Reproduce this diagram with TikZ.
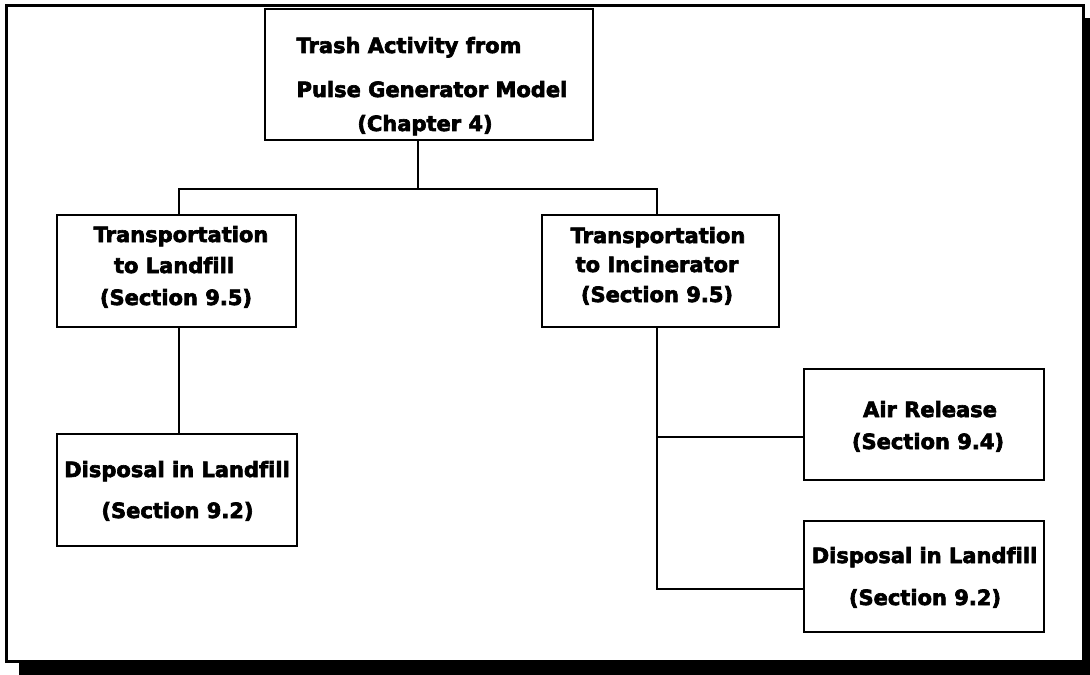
\documentclass[tikz,border=0pt]{standalone}
\usepackage{fontspec}
\setmainfont{DejaVu Sans}
\newfontfamily\heavyfont{DejaVu Sans Bold}[FakeBold=3, Ligatures=CommonOff]
\usetikzlibrary{calc}
\begin{document}
\begin{tikzpicture}[x=1bp, y=-1bp,
  box/.style={draw=black, line width=2.5bp, rectangle, inner sep=0pt},
  txt/.style={anchor=base, inner sep=0pt, font=\heavyfont\fontsize{21bp}{24bp}\selectfont},
  link/.style={draw=black, line width=2.5bp}]
\useasboundingbox (0,0) rectangle (1090,675);
% page frame with drop shadow
\fill[black] (19,18) rectangle (1090,675);
\draw[line width=3bp, fill=white] (6.5,5.5) rectangle (1083.5,661.5);

% boxes
\node[box, minimum width=328bp, minimum height=131bp] (top) at (429,74.5) {};
\node[box, minimum width=239bp, minimum height=112bp] (tl)  at (176.5,271) {};
\node[box, minimum width=237bp, minimum height=112bp] (tr)  at (660.5,271) {};
\node[box, minimum width=240bp, minimum height=112bp] (dl)  at (177,490) {};
\node[box, minimum width=240bp, minimum height=111bp] (air) at (924,424.5) {};
\node[box, minimum width=240bp, minimum height=111bp] (dr)  at (924,576.5) {};

% box texts
\node[txt] (top1) at (409,53)  {Trash Activity from};
\node[txt] (top2) at (432,97)  {Pulse Generator Model};
\node[txt] (top3) at (425,131) {(Chapter 4)};
\node[txt] (tl1) at (181,242) {Transportation};
\node[txt] (tl2) at (174,273) {to Landfill};
\node[txt] (tl3) at (176,305) {(Section 9.5)};
\node[txt] (tr1) at (658,243) {Transportation};
\node[txt] (tr2) at (657,272) {to Incinerator};
\node[txt] (tr3) at (657,302) {(Section 9.5)};
\node[txt] (dl1) at (177,477) {Disposal in Landfill};
\node[txt] (dl2) at (177.5,518) {(Section 9.2)};
\node[txt] (air1) at (930,417) {Air Release};
\node[txt] (air2) at (928,449) {(Section 9.4)};
\node[txt] (dr1) at (924.5,563) {Disposal in Landfill};
\node[txt] (dr2) at (925,605) {(Section 9.2)};

% junction points
\coordinate (jt) at (418,189);
\coordinate (jl) at (179,189);
\coordinate (jr) at (657,189);
\coordinate (ra) at (804,437);
\coordinate (rd) at (804,589);

% connectors
\draw[link] (jt |- top.south) -- (jt);
\draw[link] (jl |- tl.north) -- (jl) -- (jr) -- (jr |- tr.north);
\draw[link] (jl |- tl.south) -- (jl |- dl.north);
\draw[link] (jr |- tr.south) -- (jr |- rd) -- (rd);
\draw[link] (jr |- ra) -- (ra);
\end{tikzpicture}
\end{document}
